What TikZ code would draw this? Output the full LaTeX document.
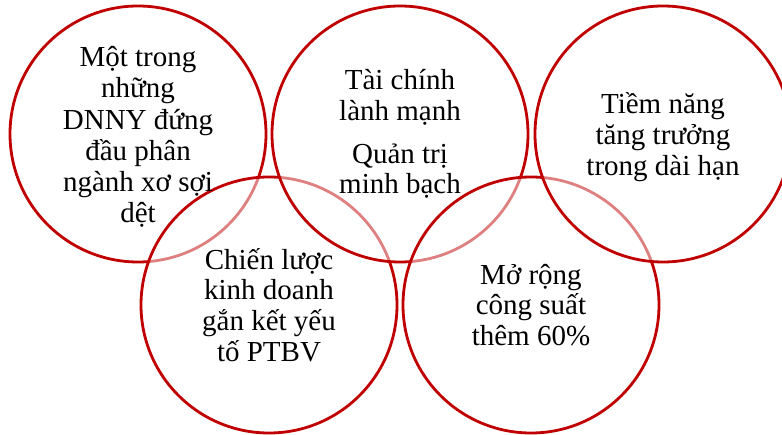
\documentclass[tikz,border=0pt]{standalone}
\usepackage{fontspec}
\setmainfont{Liberation Serif}
\definecolor{ringred}{HTML}{C00000}
\begin{document}
\begin{tikzpicture}[x=1pt,y=-1pt,
  ring/.style={circle,draw=ringred,line width=2.8pt,fill=white,fill opacity=0.5,minimum size=256pt,inner sep=0pt},
  label/.style={align=center,font=\fontsize{29}{30.8}\selectfont,text=black,inner sep=0pt}]
\useasboundingbox (0,0) rectangle (782,435);
\node[ring] (c1) at (138,134) {};
\node[ring] (c4) at (269,305) {};
\node[ring] (c2) at (400,134) {};
\node[ring] (c5) at (531,305) {};
\node[ring] (c3) at (663,134) {};
\node[label,font=\fontsize{29}{31.3}\selectfont] (t1) at ([yshift=-3pt]c1.center) {Một trong\\những\\DNNY đứng\\đầu phân\\ngành xơ sợi\\dệt};
\node[label] (t2) at (c2.center) {Tài chính\\lành mạnh\\[12pt]Quản trị\\minh bạch};
\node[label] (t3) at ([yshift=-3pt]c3.center) {Tiềm năng\\tăng trưởng\\trong dài hạn};
\node[label] (t4) at (c4.center) {Chiến lược\\kinh doanh\\gắn kết yếu\\tố PTBV};
\node[label] (t5) at (c5.center) {Mở rộng\\công suất\\thêm 60\%};
\end{tikzpicture}
\end{document}
